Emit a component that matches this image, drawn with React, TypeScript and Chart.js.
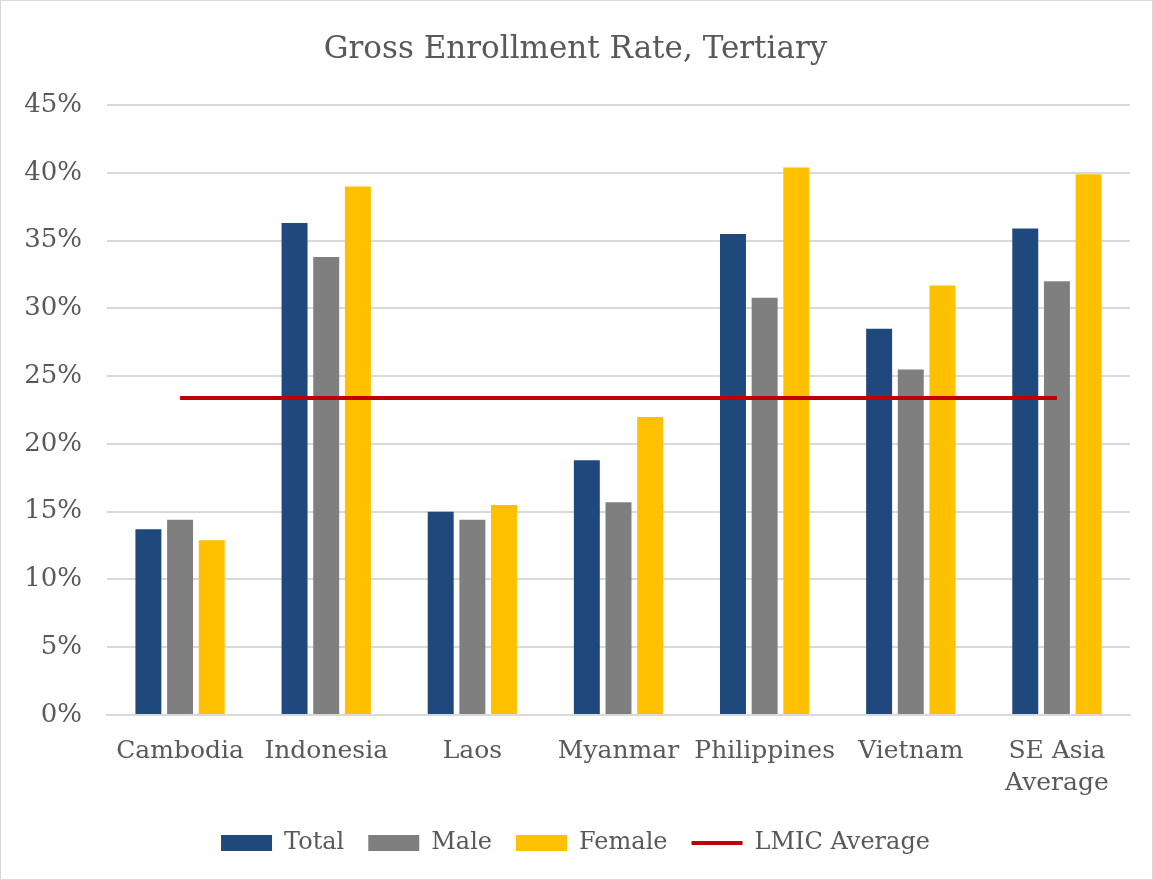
import React, { useEffect, useRef } from "react";
import { Chart, registerables } from "chart.js";

Chart.register(...registerables);

const categories: (string | string[])[] = [
  "Cambodia",
  "Indonesia",
  "Laos",
  "Myanmar",
  "Philippines",
  "Vietnam",
  ["SE Asia", "Average"],
];
const totalValues = [13.7, 36.3, 15.0, 18.8, 35.5, 28.5, 35.9];
const maleValues = [14.4, 33.8, 14.4, 15.7, 30.8, 25.5, 32.0];
const femaleValues = [12.9, 39.0, 15.5, 22.0, 40.4, 31.7, 39.9];
const lmicValues = [23.4, 23.4, 23.4, 23.4, 23.4, 23.4, 23.4];

const FONT = "'DejaVu Serif', serif";
const TEXT = "#595959";

export default function App() {
  const ref = useRef<HTMLCanvasElement | null>(null);
  useEffect(() => {
    document.body.style.margin = "0";
    const ctx = ref.current!;
    const chart = new Chart(ctx, {
      type: "bar",
      data: {
        labels: categories,
        datasets: [
          { label: "Total", data: totalValues, backgroundColor: "#1f497d", pointStyle: "rect", order: 1 },
          { label: "Male", data: maleValues, backgroundColor: "#7f7f7f", pointStyle: "rect", order: 1 },
          { label: "Female", data: femaleValues, backgroundColor: "#ffc000", pointStyle: "rect", order: 1 },
          {
            type: "line",
            label: "LMIC Average",
            data: lmicValues,
            borderColor: "#c00000",
            backgroundColor: "#c00000",
            borderWidth: 4,
            pointRadius: 0,
            pointStyle: "line",
            order: 0,
          } as any,
        ],
      },
      options: {
        responsive: false,
        animation: false,
        layout: { padding: { left: 20, right: 22, top: 10, bottom: 14 } },
        datasets: {
          bar: { categoryPercentage: 0.65, barPercentage: 0.82 },
        } as any,
        plugins: {
          title: {
            display: true,
            text: "Gross Enrollment Rate, Tertiary",
            color: TEXT,
            font: { family: FONT, size: 31, weight: "normal" },
            padding: { top: 20, bottom: 37 },
          },
          legend: {
            position: "bottom",
            labels: {
              color: TEXT,
              font: { family: FONT, size: 24 },
              usePointStyle: true,
              pointStyleWidth: 51,
              boxWidth: 51,
              boxHeight: 16,
              padding: 24,
              sort: (a: any, b: any) => a.datasetIndex - b.datasetIndex,
            },
          },
          tooltip: { enabled: false },
        },
        scales: {
          x: {
            grid: { display: false },
            border: { color: "#d9d9d9", width: 2 },
            ticks: {
              color: TEXT,
              font: { family: FONT, size: 25, lineHeight: 1.3 },
              padding: 12,
              maxRotation: 0,
              autoSkip: false,
            },
            afterFit: (scale: any) => {
              scale.height = scale.height - 5;
            },
          },
          y: {
            min: 0,
            max: 45,
            grid: { color: "#d9d9d9", lineWidth: 2, drawTicks: false },
            border: { display: false },
            ticks: {
              stepSize: 5,
              color: TEXT,
              font: { family: FONT, size: 26 },
              padding: 25,
              callback: (v: any) => v + "%",
            },
            afterFit: (scale: any) => {
              scale.width = 86;
            },
          },
        },
      },
    });
    return () => chart.destroy();
  }, []);
  return (
    <div
      style={{
        position: "absolute",
        left: 0,
        top: 0,
        width: 1153,
        height: 880,
        boxSizing: "border-box",
        border: "1px solid #d9d9d9",
        background: "#fff",
      }}
    >
      <canvas ref={ref} width={1151} height={878} style={{ display: "block" }} />
    </div>
  );
}
